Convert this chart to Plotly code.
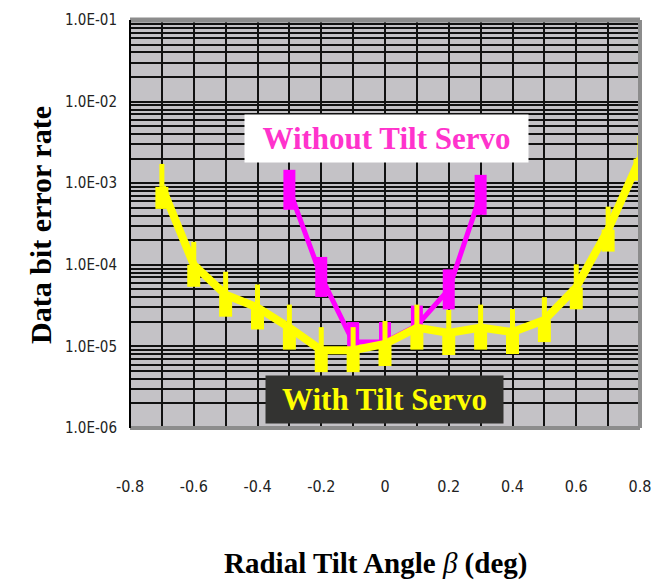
import plotly.graph_objects as go

# Radial tilt angle (deg) at which the bit error rate was measured
tilt_with_servo = [-0.7, -0.6, -0.5, -0.4, -0.3, -0.2, -0.1, 0.0,
                   0.1, 0.2, 0.3, 0.4, 0.5, 0.6, 0.7, 0.8]
ber_with_servo = [9.0e-4, 1.0e-4, 4.3e-5, 3.0e-5, 1.7e-5, 9.0e-6, 9.0e-6, 1.07e-5,
                  1.7e-5, 1.46e-5, 1.7e-5, 1.5e-5, 2.1e-5, 5.3e-5, 2.7e-4, 2.0e-3]

tilt_without_servo = [-0.3, -0.2, -0.1, 0.0, 0.1, 0.2, 0.3]
ber_without_servo = [8.3e-4, 7.1e-5, 1.13e-5, 1.13e-5, 1.8e-5, 5.0e-5, 7.2e-4]

x_tick_values = [-0.8, -0.6, -0.4, -0.2, 0.0, 0.2, 0.4, 0.6, 0.8]
x_tick_labels = ["-0.8", "-0.6", "-0.4", "-0.2", "0", "0.2", "0.4", "0.6", "0.8"]
y_decades = [1e-6, 1e-5, 1e-4, 1e-3, 1e-2, 1e-1]
y_decade_labels = ["1.0E-06", "1.0E-05", "1.0E-04", "1.0E-03", "1.0E-02", "1.0E-01"]

# log grid: every 1..9 multiple inside each decade, labels only on decades
y_grid_values, y_grid_labels = [], []
for dec, lab in zip(y_decades[:-1], y_decade_labels[:-1]):
    for m in range(1, 10):
        y_grid_values.append(dec * m)
        y_grid_labels.append(lab if m == 1 else "")
y_grid_values.append(y_decades[-1])
y_grid_labels.append(y_decade_labels[-1])

W, H = 652, 583
M_L, M_R, M_T, M_B = 130, 12, 20, 155
PLOT_H = H - M_T - M_B
PLOT_W = W - M_L - M_R
DECADE_PX = PLOT_H / 5.0


def log_span(values, px_up, px_down):
    """Error-bar extents (data units) covering a fixed pixel height on a log axis."""
    up = [v * (10 ** (px_up / DECADE_PX) - 1) for v in values]
    down = [v * (1 - 10 ** (-px_down / DECADE_PX)) for v in values]
    return up, down


MAGENTA = "#FF00FF"
YELLOW = "#FFFF00"

fig = go.Figure()

# Without tilt servo: thick line with tall rectangular markers
m_up, m_down = log_span(ber_without_servo, 20, 20)
fig.add_trace(go.Scatter(
    x=tilt_without_servo, y=ber_without_servo, mode="lines",
    line=dict(color=MAGENTA, width=5),
    error_y=dict(type="data", symmetric=False, array=m_up, arrayminus=m_down,
                 color=MAGENTA, thickness=12, width=0),
    showlegend=False, hoverinfo="x+y",
))

# With tilt servo: marker base block
b_up, b_down = log_span(ber_with_servo, 0, 22)
fig.add_trace(go.Scatter(
    x=tilt_with_servo, y=ber_with_servo, mode="markers",
    marker=dict(size=1, color="rgba(0,0,0,0)"),
    error_y=dict(type="data", symmetric=False, array=b_up, arrayminus=b_down,
                 color=YELLOW, thickness=13, width=0),
    showlegend=False, hoverinfo="skip",
))
# With tilt servo: thick line plus narrow marker spike
s_up, s_down = log_span(ber_with_servo, 23, 0)
fig.add_trace(go.Scatter(
    x=tilt_with_servo, y=ber_with_servo, mode="lines",
    line=dict(color=YELLOW, width=8),
    error_y=dict(type="data", symmetric=False, array=s_up, arrayminus=s_down,
                 color=YELLOW, thickness=5, width=0),
    showlegend=False, hoverinfo="x+y",
))

GRID = "#111111"
TICK_FONT = "Liberation Sans Narrow, DejaVu Sans Condensed, Arial Narrow, sans-serif"
SERIF = "Liberation Serif, Times New Roman, serif"

fig.update_xaxes(
    range=[-0.8, 0.8], tickvals=x_tick_values, ticktext=x_tick_labels,
    showgrid=True, gridcolor=GRID, gridwidth=1.6, zeroline=False,
    minor=dict(dtick=0.1, tick0=0, showgrid=True, gridcolor=GRID, gridwidth=1.6),
    showline=False, ticks="", ticklabelstandoff=47, ticklabeloverflow="allow",
    automargin=False,
    tickfont=dict(family=TICK_FONT, size=16, color="#222222"),
)
fig.update_yaxes(
    type="log", range=[-6, -1], tickvals=y_grid_values, ticktext=y_grid_labels,
    showgrid=True, gridcolor=GRID, gridwidth=1.6, zeroline=False,
    showline=False, ticks="", ticklabelstandoff=12, ticklabeloverflow="allow",
    automargin=False,
    tickfont=dict(family=TICK_FONT, size=15, color="#222222"),
)


def px_to_paper_x(px):
    return (px - M_L) / PLOT_W


def px_to_paper_y(py):
    return (H - M_B - py) / PLOT_H


annotations = [
    dict(text="<b>Without Tilt Servo</b>", x=px_to_paper_x(386.5), y=px_to_paper_y(138.5),
         xref="paper", yref="paper", showarrow=False, xanchor="center", yanchor="middle",
         width=281, height=45, bgcolor="#FFFFFF", borderpad=1,
         font=dict(family=SERIF, size=31, color="#FF33CC")),
    dict(text="<b>With Tilt Servo</b>", x=px_to_paper_x(384.5), y=px_to_paper_y(399.5),
         xref="paper", yref="paper", showarrow=False, xanchor="center", yanchor="middle",
         width=235, height=45, bgcolor="#333331", borderpad=1,
         font=dict(family=SERIF, size=31, color=YELLOW)),
    dict(text="<b>Data bit error rate</b>", x=px_to_paper_x(40), y=px_to_paper_y(225),
         xref="paper", yref="paper", showarrow=False, textangle=-90,
         xanchor="center", yanchor="middle",
         font=dict(family=SERIF, size=30, color="#000000")),
    dict(text="<b>Radial Tilt Angle </b><i>β</i><b> (deg)</b>", x=px_to_paper_x(375),
         y=px_to_paper_y(563), xref="paper", yref="paper", showarrow=False,
         xanchor="center", yanchor="middle",
         font=dict(family=SERIF, size=29, color="#000000")),
]

FRAME_GRAY = "#8C8C8C"
shapes = [
    dict(type="line", xref="paper", yref="paper", x0=0, x1=1, y0=1, y1=1,
         line=dict(color=FRAME_GRAY, width=5), layer="above"),
    dict(type="line", xref="paper", yref="paper", x0=1, x1=1, y0=0, y1=1,
         line=dict(color=FRAME_GRAY, width=4), layer="above"),
    dict(type="line", xref="paper", yref="paper", x0=0, x1=1, y0=0, y1=0,
         line=dict(color=FRAME_GRAY, width=4), layer="above"),
    dict(type="line", xref="paper", yref="paper", x0=0, x1=0, y0=0, y1=1,
         line=dict(color="#000000", width=2), layer="above"),
]

fig.update_layout(
    width=W, height=H, autosize=False,
    margin=dict(l=M_L, r=M_R, t=M_T, b=M_B, pad=0, autoexpand=False),
    paper_bgcolor="#FFFFFF", plot_bgcolor="#C4C2C6",
    annotations=annotations, shapes=shapes, showlegend=False,
)

fig.write_html("out.html")
